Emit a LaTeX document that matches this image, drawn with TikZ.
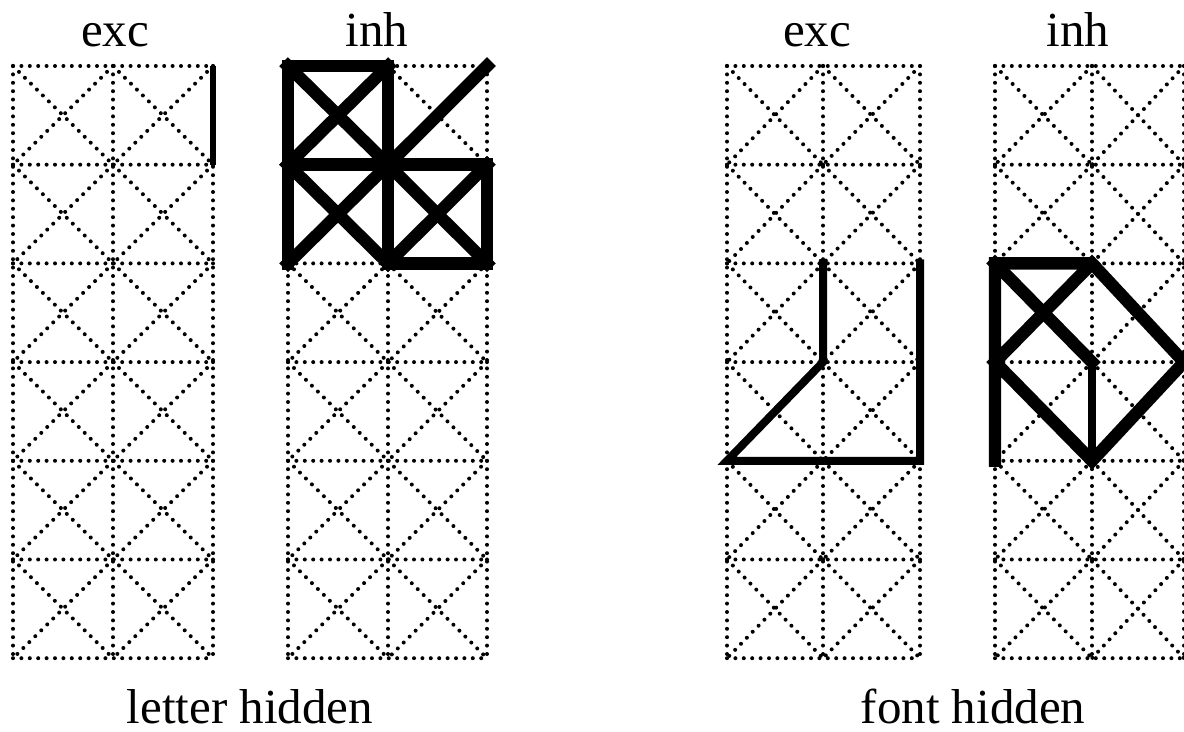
\documentclass[tikz,border=0pt]{standalone}
\usepackage{fontspec}
\setmainfont{Liberation Serif}
\begin{document}
\begin{tikzpicture}[x=0.5pt,y=-0.5pt,
  gridline/.style={line width=2pt, dash pattern=on 0pt off 4.2pt, line cap=round, black},
  thk/.style={line width=6.2pt, line cap=rect, line join=miter, black},
  medline/.style={line width=4pt, line cap=rect, line join=miter, black},
  thinline/.style={line width=2.6pt, line cap=butt, black},
  lbl/.style={font=\fontsize{24.5}{29}\selectfont, anchor=base, inner sep=0pt}]
\useasboundingbox (0,0) rectangle (1184,732);
% grid coordinates
\foreach \p/\a/\b/\c in {A/13/113/213, B/288/388/487, C/727/823/920, D/995/1092/1184} {
  \foreach \j in {0,...,6} {
    \coordinate (\p0\j) at (\a, {66+98.7*\j});
    \coordinate (\p1\j) at (\b, {66+98.7*\j});
    \coordinate (\p2\j) at (\c, {66+98.7*\j});
  }
}
% dotted grids
\foreach \p in {A,B,C,D} {
  \foreach \j in {0,...,6} \draw[gridline] (\p0\j) -- (\p2\j);
  \foreach \i in {0,1,2} \draw[gridline] (\p\i0) -- (\p\i6);
  \foreach \j [evaluate=\j as \k using int(\j+1)] in {0,...,5} {
    \draw[gridline] (\p0\j) -- (\p1\k);
    \draw[gridline] (\p1\j) -- (\p0\k);
    \draw[gridline] (\p1\j) -- (\p2\k);
    \draw[gridline] (\p2\j) -- (\p1\k);
  }
}
% letter hidden, exc
\draw[thinline] (A20) -- (A21);
% letter hidden, inh
\draw[thk] (B02) -- (B00) -- (B10) -- (B12) -- (B22) -- (B21) -- (B01);
\draw[thk] (B00) -- (B11) -- (B20);
\draw[thk] (B10) -- (B01);
\draw[thk] (B01) -- (B12);
\draw[thk] (B11) -- (B02);
\draw[thk] (B11) -- (B22);
\draw[thk] (B21) -- (B12);
% font hidden, exc
\draw[medline] (C12) -- (C13) -- (C04) -- (C24) -- (C22);
% font hidden, inh
\draw[thk] (D04) -- (D02) -- (D12) -- (D23) -- (D14) -- (D03) -- (D12);
\draw[thk] (D02) -- (D13);
\draw[medline] (D13) -- (D14);
% labels
\node[lbl] (excA) at (115,47) {exc};
\node[lbl] (inhB) at (377,47) {inh};
\node[lbl] (excC) at (817,47) {exc};
\node[lbl] (inhD) at (1078,47) {inh};
\node[lbl] (letter) at (250,723) {letter hidden};
\node[lbl] (font) at (973,723) {font hidden};
\end{tikzpicture}
\end{document}
